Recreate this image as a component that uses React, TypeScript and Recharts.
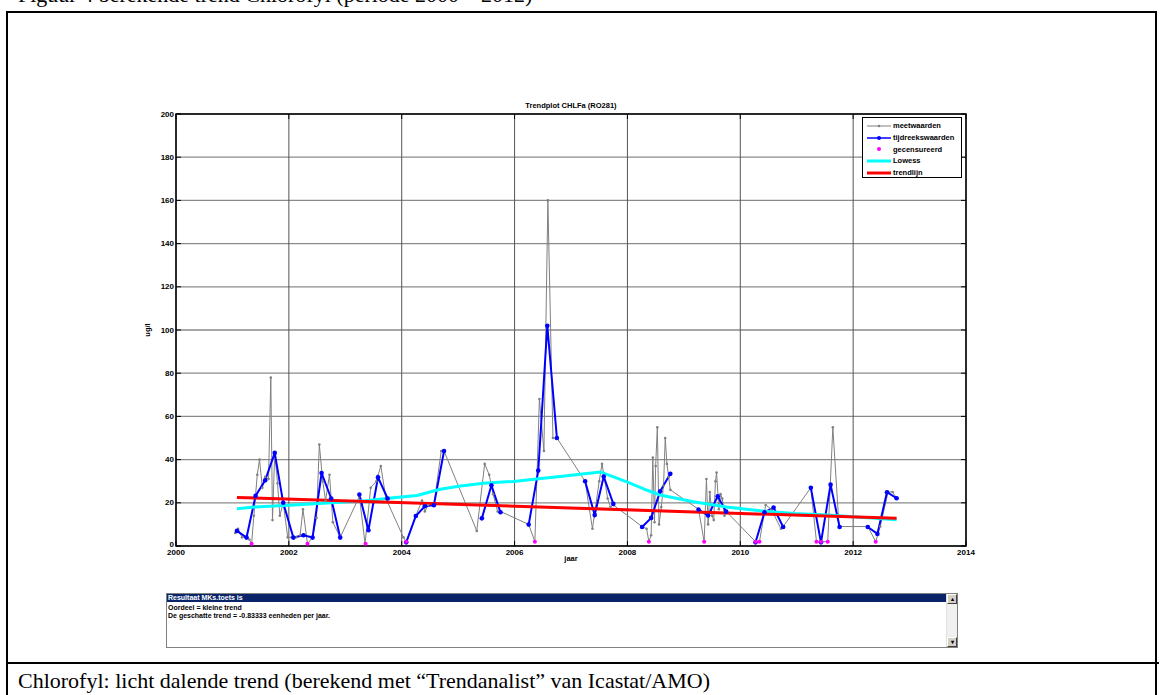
import React from 'react';
import { LineChart, Line, XAxis, YAxis, CartesianGrid, ReferenceArea } from 'recharts';

// meetwaarden (grey)
const meetJaar = [
  2001.05, 2001.10, 2001.17, 2001.25, 2001.30, 2001.34, 2001.38, 2001.44, 2001.48, 2001.53,
  2001.58, 2001.64, 2001.68, 2001.71, 2001.75, 2001.80, 2001.84, 2001.90, 2001.98, 2002.05,
  2002.13, 2002.20, 2002.25, 2002.33, 2002.42, 2002.49, 2002.54, 2002.60, 2002.65, 2002.72,
  2002.78, 2002.91, 2003.25, 2003.35, 2003.45, 2003.55, 2003.63, 2003.72, 2004.03, 2004.08,
  2004.25, 2004.36, 2004.41, 2004.47, 2004.57, 2004.70, 2004.75, 2005.33, 2005.47, 2005.55,
  2005.62, 2005.70, 2005.75, 2006.25, 2006.36, 2006.44, 2006.52, 2006.59, 2006.68, 2006.75,
  2007.25, 2007.38, 2007.50, 2007.55, 2007.65, 2007.70, 2007.75, 2008.26, 2008.34, 2008.38,
  2008.42, 2008.45, 2008.48, 2008.50, 2008.53, 2008.56, 2008.60, 2008.64, 2008.67, 2008.70,
  2008.73, 2008.76, 2009.26, 2009.36, 2009.40, 2009.43, 2009.46, 2009.50, 2009.53, 2009.56,
  2009.58, 2009.62, 2009.65, 2009.68, 2009.72, 2009.75, 2010.27, 2010.34, 2010.45, 2010.55,
  2010.72, 2010.76, 2011.25, 2011.35, 2011.43, 2011.55, 2011.64, 2011.75, 2012.26, 2012.40,
  2012.48, 2012.62, 2012.70, 2012.77,
];
const meetWaarde = [
  6, 8, 4, 4, 3, 1, 14, 33, 40, 27,
  32, 31, 78, 12, 43, 29, 14, 20, 4, 4,
  4, 5, 17, 1, 4, 13, 47, 30, 21, 33,
  11, 4, 23, 1, 27, 30, 37, 22, 4, 2,
  14, 21, 16, 19, 19, 44, 44, 7, 38, 33,
  24, 16, 16, 10, 2, 68, 44, 160, 50, 50,
  30, 8, 30, 38, 22, 18, 19, 9, 8, 2,
  5, 41, 11, 37, 55, 10, 18, 28, 50, 38,
  32, 26, 17, 2, 31, 10, 25, 14, 12, 30,
  34, 17, 24, 22, 14, 16, 2, 2, 19, 17,
  8, 9, 27, 2, 2, 2, 55, 9, 9, 2,
  9, 25, 25, 22,
];

// tijdreekswaarden (blue), null = gap
const reeksJaar = [
  2001.08, 2001.25, 2001.41, 2001.58, 2001.75, 2001.90, 2002.08, 2002.26, 2002.42, 2002.58, 2002.75, 2002.91, 2003.08,
  2003.25, 2003.41, 2003.58, 2003.75, 2003.9,
  2004.08, 2004.25, 2004.41, 2004.57, 2004.75, 2005.1,
  2005.42, 2005.59, 2005.75, 2006.0,
  2006.25, 2006.42, 2006.58, 2006.75, 2007.0,
  2007.25, 2007.42, 2007.58, 2007.75, 2008.0,
  2008.26, 2008.42, 2008.58, 2008.76, 2009.0,
  2009.26, 2009.43, 2009.60, 2009.75, 2010.0,
  2010.27, 2010.43, 2010.59, 2010.76, 2011.0,
  2011.25, 2011.43, 2011.60, 2011.76, 2012.0,
  2012.26, 2012.43, 2012.60, 2012.77,
];
const reeksWaarde = [
  7, 3.9, 23.2, 30.4, 43.1, 20, 3.9, 5, 3.9, 33.8, 22, 3.9, null,
  23.8, 7.3, 31.8, 22, null,
  1.7, 13.9, 18.4, 18.9, 44, null,
  12.8, 28.1, 15.6, null,
  9.9, 34.9, 102, 50, null,
  30, 14.4, 32.2, 19.5, null,
  8.8, 13, 25.3, 33.4, null,
  16.9, 14.1, 23, 15.9, null,
  1.7, 15.6, 17.8, 8.8, null,
  27, 1.7, 28.4, 8.8, null,
  8.8, 5.6, 24.9, 22.1,
];

// gecensureerd (magenta)
const censJaar = [2001.34, 2002.33, 2003.36, 2004.08, 2006.36, 2008.38, 2009.36, 2010.27, 2010.34, 2011.35, 2011.43, 2011.55, 2012.40];
const censWaarde = [1, 1, 1, 2, 2, 2, 2, 2, 2, 2, 2, 2, 2];

// Lowess (cyan)
const lowessJaar = [2001.08, 2001.4, 2002.08, 2002.91, 2003.36, 2003.85, 2004.27, 2004.68, 2005.04, 2005.45, 2005.98, 2006.51, 2006.81, 2007.16, 2007.52, 2007.99, 2008.35, 2008.58, 2009.17, 2009.76, 2010.35, 2010.95, 2011.54, 2012.13, 2012.77];
const lowessWaarde = [17.3, 18.0, 19.0, 20.2, 21.0, 22.3, 23.4, 26.3, 27.8, 29.1, 29.9, 31.4, 32.2, 33.2, 34.3, 29.7, 25.8, 23.6, 20.5, 18.1, 16.3, 15.1, 14.3, 13.3, 12.2];

// trendlijn (red)
const trendJaar = [2001.08, 2012.77];
const trendWaarde = [22.5, 12.8];

const xTicks = [2000, 2002, 2004, 2006, 2008, 2010, 2012, 2014];
const yTicks = [0, 20, 40, 60, 80, 100, 120, 140, 160, 180, 200];

const toRows = (t: number[], v: (number | null)[]) => t.map((x, i) => ({ t: x, v: v[i] }));
const meetData = toRows(meetJaar, meetWaarde);
const reeksData = toRows(reeksJaar, reeksWaarde);
const censData = toRows(censJaar, censWaarde);
const lowessData = toRows(lowessJaar, lowessWaarde);
const trendData = toRows(trendJaar, trendWaarde);

const SANS = "'Liberation Sans', Arial, Helvetica, sans-serif";
const SERIF = "'Liberation Serif', 'Times New Roman', serif";

const CH_W = 900;
const CH_H = 490;
const M_TOP = 24;
const AX_L = 56;
const PLOT_W = 790;
const PLOT_H = 432;

const YTick = (props: any) => {
  const { y, payload } = props;
  return (
    <g>
      <line x1={AX_L} x2={AX_L + 5} y1={y} y2={y} stroke="#000" />
      <line x1={AX_L + PLOT_W} x2={AX_L + PLOT_W - 5} y1={y} y2={y} stroke="#000" />
      <text x={AX_L - 2} y={payload.value === 0 ? y - 2 : y} textAnchor="end" dominantBaseline="central" fontSize={8} fontWeight="bold" fontFamily={SANS} fill="#000">
        {payload.value}
      </text>
    </g>
  );
};

const XTick = (props: any) => {
  const { x, payload } = props;
  const yb = M_TOP + PLOT_H;
  return (
    <g>
      <line x1={x} x2={x} y1={yb} y2={yb - 5} stroke="#000" />
      <line x1={x} x2={x} y1={M_TOP} y2={M_TOP + 5} stroke="#000" />
      <text x={x} y={yb + 3} textAnchor="middle" dominantBaseline="hanging" fontSize={8} fontWeight="bold" fontFamily={SANS} fill="#000">
        {payload.value}
      </text>
    </g>
  );
};

const legendRows = [
  { label: 'meetwaarden', color: '#808080', width: 1, dot: 1.3, line: true },
  { label: 'tijdreekswaarden', color: '#0000ff', width: 1.5, dot: 2, line: true },
  { label: 'gecensureerd', color: '#ff00ff', width: 0, dot: 2, line: false },
  { label: 'Lowess', color: '#00ffff', width: 3, dot: 0, line: true },
  { label: 'trendlijn', color: '#ff0000', width: 3, dot: 0, line: true },
];

const PlotLegend = () => (
  <div
    style={{
      position: 'absolute', left: 862, top: 117, width: 100, height: 61,
      border: '1px solid #000', background: '#fff', boxSizing: 'border-box', paddingTop: 2,
    }}
  >
    {legendRows.map((r) => (
      <div key={r.label} style={{ display: 'flex', alignItems: 'center', height: 11.7 }}>
        <svg width={28} height={10} style={{ marginLeft: 2 }}>
          {r.line && <line x1={2} x2={26} y1={5} y2={5} stroke={r.color} strokeWidth={r.width} />}
          {r.dot > 0 && <circle cx={14} cy={5} r={r.dot} fill={r.color} />}
        </svg>
        <span style={{ fontFamily: SANS, fontWeight: 'bold', fontSize: 7.5, color: '#000', whiteSpace: 'nowrap' }}>{r.label}</span>
      </div>
    ))}
  </div>
);

const ResultBox = () => (
  <div
    style={{
      position: 'absolute', left: 166, top: 593, width: 792, height: 55,
      border: '1px solid #808080', background: '#fff', boxSizing: 'border-box',
      fontFamily: "'Liberation Sans Narrow', 'Liberation Sans', Arial, sans-serif", fontWeight: 'bold', fontSize: 7,
      lineHeight: '7.5px', color: '#000',
    }}
  >
    <div style={{ position: 'absolute', left: 0, top: 0, right: 11, height: 8, background: '#0a246a', color: '#fff', paddingLeft: 1 }}>
      Resultaat MKs.toets is
    </div>
    <div style={{ position: 'absolute', left: 1, top: 10 }}>Oordeel = kleine trend</div>
    <div style={{ position: 'absolute', left: 1, top: 17.5 }}>De geschatte trend = -0.83333 eenheden per jaar.</div>
    <div style={{ position: 'absolute', right: 0, top: 0, width: 10, bottom: 0, background: '#f0f0f0', borderLeft: '1px solid #e0e0e0' }}>
      <div style={{ position: 'absolute', left: 0, top: 0, width: 10, height: 10, background: '#d4d0c8', border: '1px solid #fff', borderRightColor: '#404040', borderBottomColor: '#404040', boxSizing: 'border-box', fontSize: 6, textAlign: 'center', lineHeight: '8px' }}>▴</div>
      <div style={{ position: 'absolute', left: 0, bottom: 0, width: 10, height: 10, background: '#d4d0c8', border: '1px solid #fff', borderRightColor: '#404040', borderBottomColor: '#404040', boxSizing: 'border-box', fontSize: 6, textAlign: 'center', lineHeight: '8px' }}>▾</div>
    </div>
  </div>
);

export default function App() {
  return (
    <div style={{ position: 'absolute', left: 0, top: 0, width: 1161, height: 695, background: '#fff', overflow: 'hidden' }}>
      <div style={{ position: 'absolute', left: 18, top: -18, fontFamily: SERIF, fontSize: 22, whiteSpace: 'nowrap', color: '#000' }}>
        Figuur 4 berekende trend Chlorofyl (periode 2000 – 2012)
      </div>
      {/* table frame */}
      <div style={{ position: 'absolute', left: 6, top: 11, width: 1151, height: 700, border: '2px solid #000', boxSizing: 'border-box' }} />
      <div style={{ position: 'absolute', left: 6, top: 662, width: 1153, height: 2, background: '#000' }} />
      <div style={{ position: 'absolute', left: 18, top: 668, fontFamily: SERIF, fontSize: 22, whiteSpace: 'nowrap', color: '#000' }}>
        Chlorofyl: licht dalende trend (berekend met “Trendanalist” van Icastat/AMO)
      </div>

      <div style={{ position: 'absolute', left: 120, top: 101, width: 902, textAlign: 'center', fontFamily: SANS, fontWeight: 'bold', fontSize: 7.5, color: '#000' }}>
        Trendplot CHLFa (RO281)
      </div>

      <div style={{ position: 'absolute', left: 120, top: 90 }}>
        <LineChart width={CH_W} height={CH_H} margin={{ top: M_TOP, right: 54, left: 16, bottom: 4 }}>
          <CartesianGrid horizontal vertical={false} stroke="#8a8a8a" strokeWidth={1.3} />
          <CartesianGrid horizontal={false} vertical stroke="#555" strokeWidth={1} />
          <XAxis
            dataKey="t"
            type="number"
            domain={[2000, 2014]}
            ticks={xTicks}
            allowDataOverflow
            axisLine={false}
            tickLine={false}
            tick={<XTick />}
            height={30}
            label={{ value: 'jaar', position: 'center', dy: -3, fontSize: 7.5, fontWeight: 'bold', fontFamily: SANS, fill: '#000' }}
          />
          <YAxis
            type="number"
            domain={[0, 200]}
            ticks={yTicks}
            allowDataOverflow
            axisLine={false}
            tickLine={false}
            tick={<YTick />}
            width={40}
            label={{ value: 'ug/l', angle: -90, position: 'center', dx: -9, fontSize: 7.5, fontWeight: 'bold', fontFamily: SANS, fill: '#000' }}
          />
          <ReferenceArea x1={2000} x2={2014} y1={0} y2={200} fill="none" fillOpacity={0} stroke="#000" strokeWidth={1.5} ifOverflow="visible" />
          <Line data={meetData} dataKey="v" name="meetwaarden" type="linear" stroke="#808080" strokeWidth={1}
            dot={{ r: 1.3, fill: '#808080', stroke: 'none' }} isAnimationActive={false} />
          <Line data={reeksData} dataKey="v" name="tijdreekswaarden" type="linear" stroke="#0000ff" strokeWidth={2}
            connectNulls={false} dot={{ r: 2.3, fill: '#0000ff', stroke: 'none' }} isAnimationActive={false} />
          <Line data={censData} dataKey="v" name="gecensureerd" type="linear" stroke="none" strokeWidth={0}
            dot={{ r: 2, fill: '#ff00ff', stroke: 'none' }} isAnimationActive={false} />
          <Line data={lowessData} dataKey="v" name="Lowess" type="linear" stroke="#00ffff" strokeWidth={3}
            dot={false} isAnimationActive={false} />
          <Line data={trendData} dataKey="v" name="trendlijn" type="linear" stroke="#ff0000" strokeWidth={3}
            dot={false} isAnimationActive={false} />
        </LineChart>
      </div>
      <PlotLegend />
      <ResultBox />
    </div>
  );
}
